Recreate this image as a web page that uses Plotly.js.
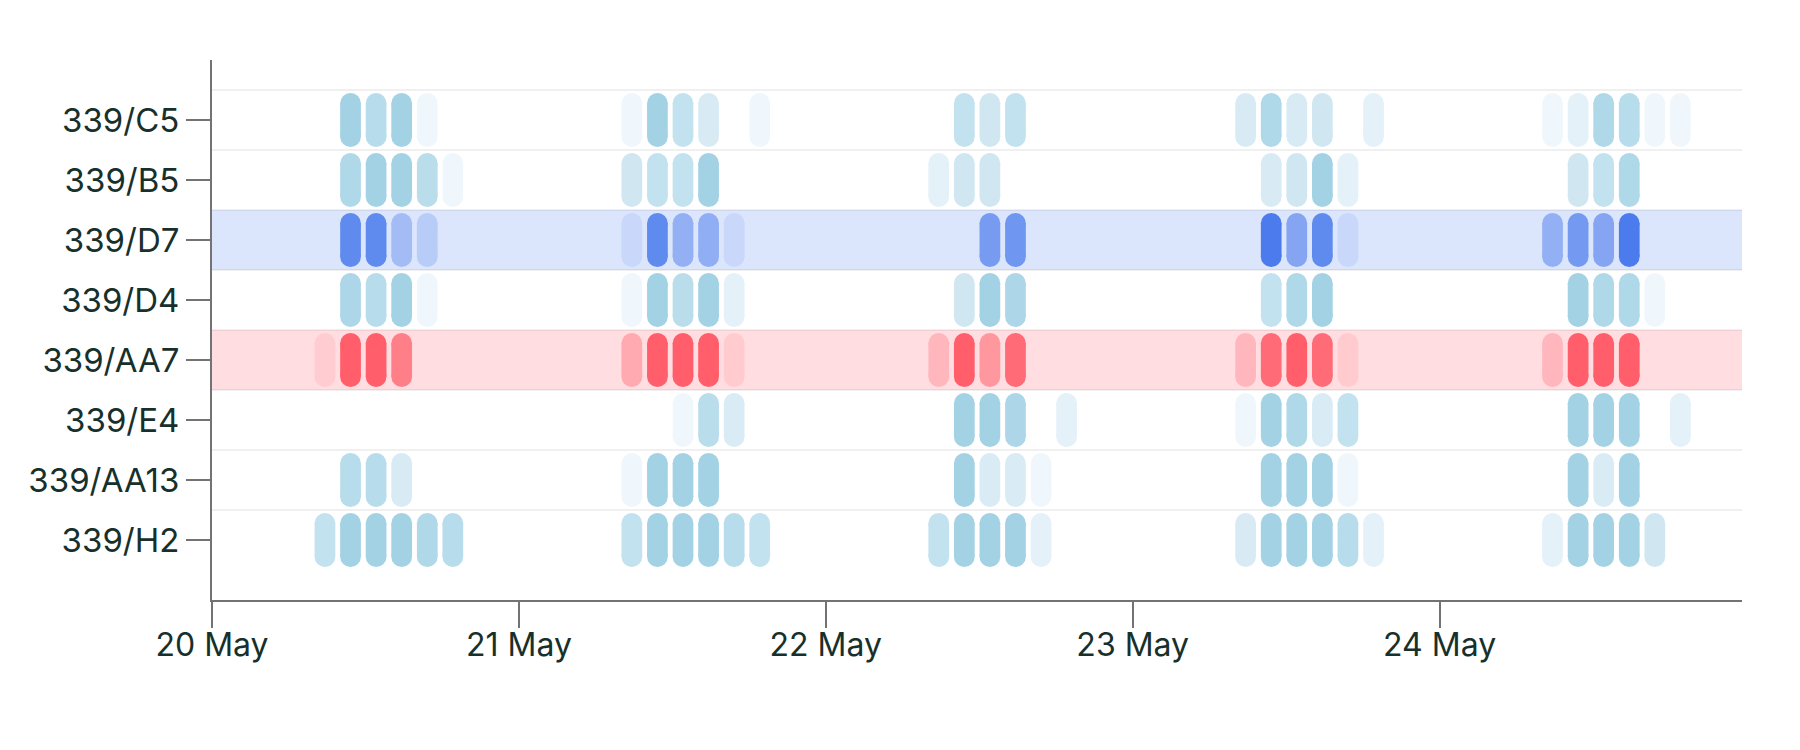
<!DOCTYPE html>
<html>
<head>
<meta charset="utf-8">
<script src="https://cdn.plot.ly/plotly-3.0.1.min.js"></script>
<style>
  html, body { margin: 0; padding: 0; background: #ffffff; }
  #chart { width: 1800px; height: 750px; }
</style>
</head>
<body>
<div id="chart"></div>
<script>
// ---- data -------------------------------------------------------------
const rows = ['339/C5', '339/B5', '339/D7', '339/D4', '339/AA7', '339/E4', '339/AA13', '339/H2'];
const days = ['2024-05-20', '2024-05-21', '2024-05-22', '2024-05-23', '2024-05-24'];
const dayLabels = ['20 May', '21 May', '22 May', '23 May', '24 May'];
const slotTimes = ['08:50', '10:50', '12:50', '14:50', '16:50', '18:50'];   // centre of each 2-hour slot

// intensity per slot (0 = no activity); one line per day, six slots per day
const C5 = [
  0,    1.0,  0.75, 1.0,  0.05, 0,
  0.05, 1.0,  0.6,  0.35, 0,    0.05,
  0,    0.6,  0.45, 0.6,  0,    0,
  0.35, 0.85, 0.35, 0.45, 0,    0.2,
  0.05, 0.2,  0.85, 0.75, 0.05, 0.05
];
const B5 = [
  0,    0.85, 1.0,  1.0,  0.72, 0.05,
  0.45, 0.6,  0.6,  1.0,  0,    0,
  0.2,  0.45, 0.45, 0,    0,    0,
  0,    0.35, 0.45, 1.0,  0.2,  0,
  0,    0.45, 0.6,  0.85, 0,    0
];
const D7 = [
  0,    0.86, 0.86, 0.39, 0.24, 0,
  0.13, 0.86, 0.5,  0.52, 0.13, 0,
  0,    0,    0.7,  0.75, 0,    0,
  0,    1.0,  0.6,  0.86, 0.13, 0,
  0.5,  0.72, 0.6,  1.0,  0,    0
];
const D4 = [
  0,    0.88, 0.75, 1.0,  0.05, 0,
  0.05, 1.0,  0.72, 1.0,  0.2,  0,
  0,    0.45, 1.0,  0.88, 0,    0,
  0,    0.6,  0.85, 1.0,  0,    0,
  0,    1.0,  0.85, 0.85, 0.05, 0
];
const AA7 = [
  0.13, 1.0,  1.0,  0.74, 0,    0,
  0.4,  1.0,  1.0,  1.0,  0.14, 0,
  0.3,  1.0,  0.55, 0.9,  0,    0,
  0.3,  0.9,  1.0,  0.9,  0.14, 0,
  0.3,  1.0,  1.0,  1.0,  0,    0
];
const E4 = [
  0,    0,    0,    0,    0,    0,
  0,    0,    0.05, 0.72, 0.33, 0,
  0,    1.0,  1.0,  0.88, 0,    0.2,
  0.05, 1.0,  0.85, 0.33, 0.6,  0,
  0,    1.0,  1.0,  1.0,  0,    0.2
];
const AA13 = [
  0,    0.75, 0.75, 0.35, 0,    0,
  0.05, 1.0,  1.0,  1.0,  0,    0,
  0,    1.0,  0.33, 0.33, 0.05, 0,
  0,    1.0,  1.0,  1.0,  0.05, 0,
  0,    1.0,  0.33, 1.0,  0,    0
];
const H2 = [
  0.6,  1.0,  1.0,  1.0,  0.85, 0.75,
  0.6,  1.0,  1.0,  1.0,  0.75, 0.6,
  0.6,  1.0,  1.0,  1.0,  0.2,  0,
  0.35, 1.0,  1.0,  1.0,  0.75, 0.2,
  0.2,  1.0,  1.0,  1.0,  0.45, 0
];
const rowValues = [C5, B5, D7, D4, AA7, E4, AA13, H2];
const highlightBlue = '339/D7';
const highlightRed = '339/AA7';

// ---- styles / geometry ------------------------------------------------
const scaleDefault = [[0, '#f4f9fd'], [1, '#a3d2e5']];
const scaleBlue = [[0, '#dbe5fc'], [1, '#4b7bec']];
const scaleRed = [[0, '#ffdde0'], [1, '#ff5e6a']];
const bandBlue = '#dbe5fc';
const bandRed = '#ffdde0';
const axisColor = '#737373';
const textColor = '#17302b';

const W = 1800, H = 750;
const margin = { l: 212, r: 58, t: 60, b: 150, pad: 0 };
const xRange = ['2024-05-20T00:00:00', '2024-05-24T23:39:00'];
const yRange = [8, -1];

const HOUR = 3600 * 1000;
const pillWidth = 1.62 * HOUR;      // width of a pill along the time axis
const half = 0.45;                  // half pill height in row units

const plotW = W - margin.l - margin.r;
const plotH = H - margin.t - margin.b;
const pxPerMs = plotW / (Date.parse(xRange[1]) - Date.parse(xRange[0]));
const pxPerUnit = plotH / Math.abs(yRange[0] - yRange[1]);
const pillPx = pillWidth * pxPerMs;
const capUnits = pillPx / 2 / pxPerUnit;  // radius of pill ends, in row units

function scaleFor(name) {
  if (name === highlightBlue) return scaleBlue;
  if (name === highlightRed) return scaleRed;
  return scaleDefault;
}

const bodyTraces = [];
const capTraces = [];
rows.forEach((name, r) => {
  const vals = rowValues[r];
  const xs = [], cs = [];
  days.forEach((d, di) => {
    slotTimes.forEach((t, si) => {
      const v = vals[di * slotTimes.length + si];
      if (v > 0) { xs.push(d + ' ' + t); cs.push(v); }
    });
  });
  const scale = scaleFor(name);
  // straight middle part of each pill
  bodyTraces.push({
    type: 'bar',
    x: xs,
    y: xs.map(() => 2 * (half - capUnits)),
    base: xs.map(() => r - (half - capUnits)),
    width: pillWidth,
    marker: { color: cs, colorscale: scale, cmin: 0, cmax: 1, line: { width: 0 } },
    hoverinfo: 'skip', showlegend: false
  });
  // round ends of each pill
  [-1, 1].forEach(dir => {
    capTraces.push({
      type: 'scatter', mode: 'markers',
      x: xs,
      y: xs.map(() => r + dir * (half - capUnits)),
      marker: { symbol: 'circle', size: pillPx, color: cs, colorscale: scale, cmin: 0, cmax: 1, line: { width: 0 } },
      hoverinfo: 'skip', showlegend: false, cliponaxis: false
    });
  });
});

const idxBlue = rows.indexOf(highlightBlue);
const idxRed = rows.indexOf(highlightRed);
const shapes = [
  { type: 'rect', xref: 'paper', yref: 'y', x0: 0, x1: 1, y0: idxBlue - 0.5, y1: idxBlue + 0.5,
    fillcolor: bandBlue, line: { width: 0 }, layer: 'below' },
  { type: 'rect', xref: 'paper', yref: 'y', x0: 0, x1: 1, y0: idxRed - 0.5, y1: idxRed + 0.5,
    fillcolor: bandRed, line: { width: 0 }, layer: 'below' }
];

const boundaries = rows.slice(0, rows.length - 1).map((_, i) => i - 0.5).concat([rows.length - 1.5]);

const layout = {
  width: W, height: H,
  margin: margin,
  paper_bgcolor: '#ffffff', plot_bgcolor: '#ffffff',
  font: { family: 'Inter, "Noto Sans", sans-serif', size: 33, color: textColor },
  barmode: 'overlay',
  showlegend: false,
  xaxis: {
    type: 'date',
    range: xRange,
    tickvals: days, ticktext: dayLabels,
    showgrid: false, zeroline: false,
    showline: true, linecolor: axisColor, linewidth: 2,
    ticks: 'outside', ticklen: 26, tickwidth: 2, tickcolor: axisColor,
    ticklabelstandoff: -10,
    tickfont: { size: 32, color: textColor },
    fixedrange: true
  },
  yaxis: {
    range: yRange,
    tickvals: rows.map((_, i) => i), ticktext: rows,
    showgrid: false, zeroline: false,
    showline: true, linecolor: axisColor, linewidth: 2,
    ticks: 'outside', ticklen: 24, tickwidth: 2, tickcolor: axisColor,
    tickfont: { size: 33, color: textColor },
    minor: { tickvals: boundaries, showgrid: true, gridcolor: 'rgba(0,0,0,0.06)', gridwidth: 2, ticks: '' },
    fixedrange: true
  },
  shapes: shapes
};

Plotly.newPlot('chart', bodyTraces.concat(capTraces), layout, { displayModeBar: false, staticPlot: true });
</script>
</body>
</html>
